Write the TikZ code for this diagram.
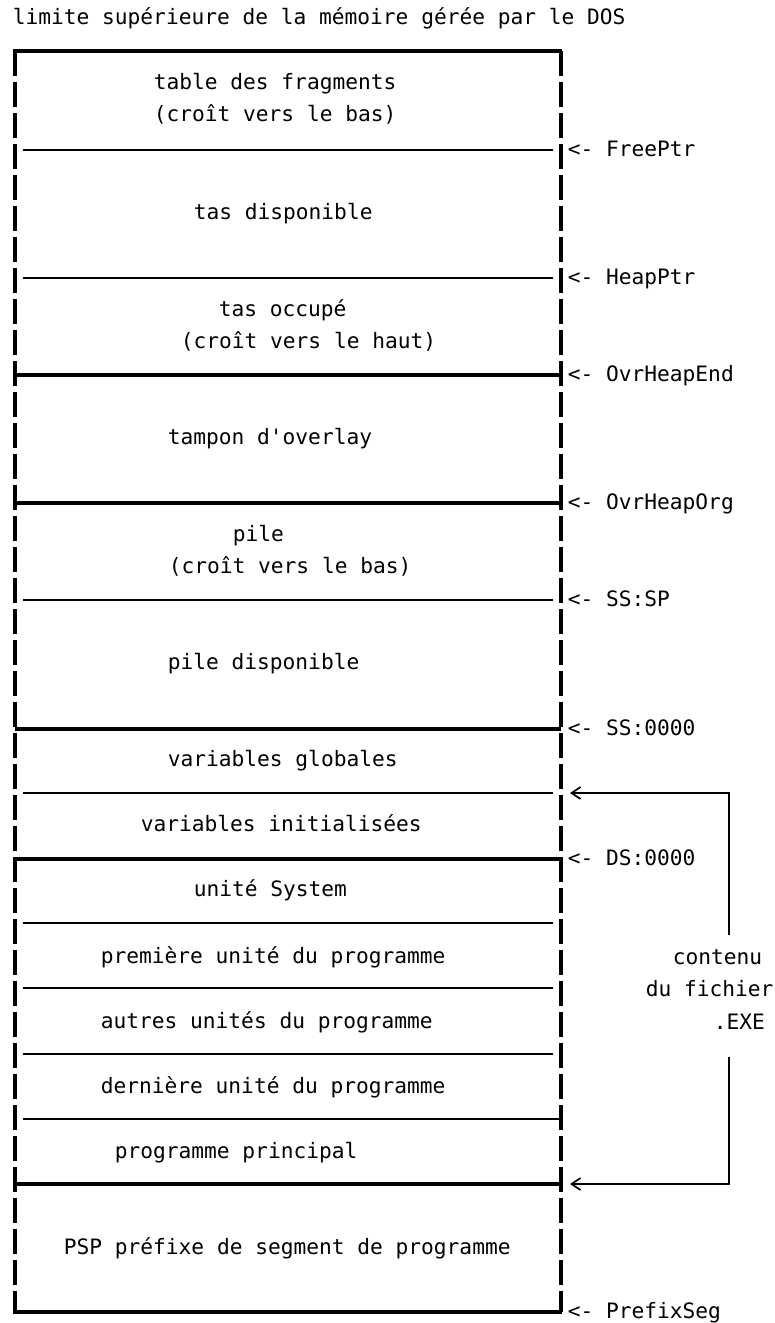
\documentclass[tikz,border=0pt]{standalone}
\usepackage{fontspec}
\newfontfamily\memfont{DejaVu Sans Mono}
\usetikzlibrary{arrows.meta}
\begin{document}
\begin{tikzpicture}[
        x = 0.5pt, y = -0.5pt,
        line width = 0.3mm,
        font = \memfont\fontsize{10.6}{16}\selectfont,
        txt/.style = {anchor = base west, inner sep = 0pt, yshift = -3pt},
        thinsep/.style = {line width = 0.35mm},
        thicksep/.style = {line width = 0.55mm},
        edge/.style = {line width = 0.7mm, dash pattern = on 12.5pt off 3pt},
        barb/.style = {{Straight Barb[length = 4.5pt, width = 6pt]}-}
    ]
    \useasboundingbox (0,0) rectangle (775,1323);
    \node[txt] (title) at (12,18) {limite supérieure de la mémoire gérée par le DOS};
    \draw[line width = 0.7mm] (13,51) -- (562,51);
    \draw[line width = 0.7mm] (13,1312) -- (562,1312);
    \draw[edge] (15,51) -- (15,1312);
    \draw[edge] (561,51) -- (561,1312);
    \draw[thinsep] (23,150) -- (553,150);
    \draw[thinsep] (23,278) -- (553,278);
    \draw[thicksep] (15,375) -- (561,375);
    \draw[thicksep] (15,503) -- (561,503);
    \draw[thinsep] (23,600) -- (553,600);
    \draw[thicksep] (15,729) -- (561,729);
    \draw[thinsep] (23,793) -- (553,793);
    \draw[thicksep] (15,859) -- (561,859);
    \draw[thinsep] (23,923) -- (553,923);
    \draw[thinsep] (23,988) -- (553,988);
    \draw[thinsep] (23,1054) -- (553,1054);
    \draw[thinsep] (23,1119) -- (561,1119);
    \draw[thicksep] (15,1184) -- (561,1184);
    \node[txt] (frag) at (153,83) {table des fragments};
    \node[txt] (fragdir) at (153,115) {(croît vers le bas)};
    \node[txt] (tasdisp) at (193,213) {tas disponible};
    \node[txt] (tasocc) at (218,310) {tas occupé};
    \node[txt] (tasoccdir) at (180,342) {(croît vers le haut)};
    \node[txt] (ovl) at (167,438) {tampon d'overlay};
    \node[txt] (pile) at (232,535) {pile};
    \node[txt] (piledir) at (168,567) {(croît vers le bas)};
    \node[txt] (piledisp) at (167,663) {pile disponible};
    \node[txt] (varglob) at (167,760) {variables globales};
    \node[txt] (varinit) at (140,825) {variables initialisées};
    \node[txt] (system) at (193,890) {unité System};
    \node[txt] (unit1) at (100,957) {première unité du programme};
    \node[txt] (units) at (100,1022) {autres unités du programme};
    \node[txt] (unitn) at (100,1087) {dernière unité du programme};
    \node[txt] (main) at (114,1152) {programme principal};
    \node[txt] (psp) at (63,1248) {PSP préfixe de segment de programme};
    \node[txt] (freeptr) at (567,150) {<- FreePtr};
    \node[txt] (heapptr) at (567,278) {<- HeapPtr};
    \node[txt] (ovrend) at (567,375) {<- OvrHeapEnd};
    \node[txt] (ovrorg) at (567,503) {<- OvrHeapOrg};
    \node[txt] (sssp) at (567,600) {<- SS:SP};
    \node[txt] (ssorg) at (567,729) {<- SS:0000};
    \node[txt] (dsorg) at (567,859) {<- DS:0000};
    \node[txt] (prefix) at (567,1312) {<- PrefixSeg};
    \node[txt] (exe1) at (672,958) {contenu};
    \node[txt] (exe2) at (645,990) {du fichier};
    \node[txt] (exe3) at (713,1023) {.EXE};
    \coordinate (tiptop) at (570,793);
    \coordinate (tipbot) at (570,1184);
    \coordinate (cornertop) at (729,793);
    \coordinate (cornerbot) at (729,1184);
    \coordinate (gaptop) at (729,935);
    \coordinate (gapbot) at (729,1057);
    \draw[barb] (tiptop) -- (cornertop) -- (gaptop);
    \draw[barb] (tipbot) -- (cornerbot) -- (gapbot);
\end{tikzpicture}
\end{document}
